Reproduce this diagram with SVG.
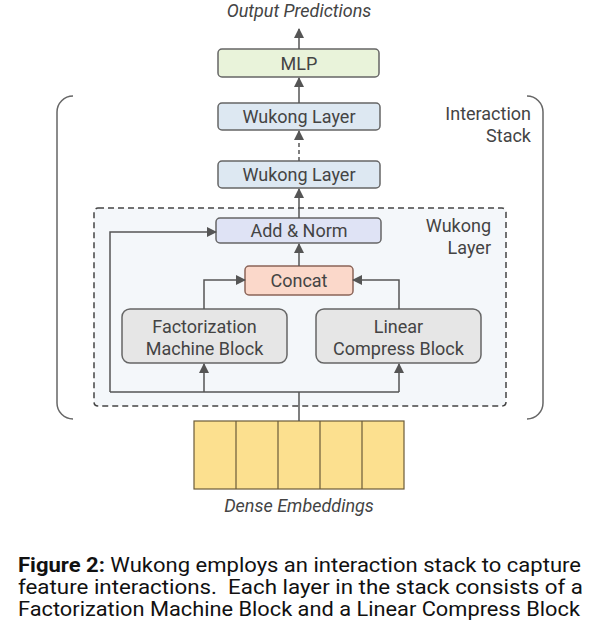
<svg xmlns="http://www.w3.org/2000/svg" width="600" height="637" viewBox="0 0 600 637">
<defs>
<marker id="ah" viewBox="0 0 10 10" refX="9" refY="5" markerWidth="10" markerHeight="10" markerUnits="userSpaceOnUse" orient="auto">
<path d="M0,0 L10,5 L0,10 Z" fill="#555"/>
</marker>
<style>
.t{font-family:Roboto,"Liberation Sans",sans-serif;font-size:18px;fill:#444;text-anchor:middle}
.ti{font-family:Roboto,"Liberation Sans",sans-serif;font-size:18px;fill:#444;font-style:italic;text-anchor:middle}
.tr{font-family:Roboto,"Liberation Sans",sans-serif;font-size:18px;fill:#444;text-anchor:end}
.box{stroke:#666;stroke-width:1.5}
.c{fill:none;stroke:#555;stroke-width:1.5}
.cap{font-family:Roboto,"Liberation Sans",sans-serif;font-size:21px;fill:#111}
</style>
</defs>
<rect width="600" height="637" fill="#fff"/>

<g id="interaction-stack">
<path d="M73,96 A16,16 0 0 0 57,112 V403 A16,16 0 0 0 73,419" fill="none" stroke="#666" stroke-width="1.5"/>
<path d="M527,96 A16,16 0 0 1 543,112 V403 A16,16 0 0 1 527,419" fill="none" stroke="#666" stroke-width="1.5"/>
<text class="tr" x="531" y="120">Interaction</text>
<text class="tr" x="531" y="142">Stack</text>
</g>

<g id="wukong-layer-detail">
<rect x="94" y="208" width="412" height="198" rx="4" fill="#f4f7fa" stroke="#444" stroke-width="1.5" stroke-dasharray="6,4"/>
<text class="tr" x="491" y="232">Wukong</text>
<text class="tr" x="491" y="254">Layer</text>
</g>

<g id="output-label"><text class="ti" x="299" y="17">Output Predictions</text></g>

<g id="mlp">
<rect class="box" x="218" y="49" width="161" height="28" rx="4" fill="#e9f3da"/>
<text class="t" x="299" y="69.5">MLP</text>
</g>

<g id="wukong-layer-top">
<rect class="box" x="218" y="103" width="162" height="27" rx="4" fill="#dde8f2"/>
<text class="t" x="299" y="123">Wukong Layer</text>
</g>

<g id="wukong-layer-bottom">
<rect class="box" x="218" y="161" width="162" height="27" rx="4" fill="#dde8f2"/>
<text class="t" x="299" y="181">Wukong Layer</text>
</g>

<g id="add-norm">
<rect class="box" x="216" y="218" width="165" height="25" rx="4" fill="#dfe3f5"/>
<text class="t" x="299" y="237">Add &amp; Norm</text>
</g>

<g id="concat">
<rect x="245" y="266" width="108" height="29" rx="4" fill="#fbd8ca" stroke="#8a6458" stroke-width="1.5"/>
<text class="t" x="299" y="287">Concat</text>
</g>

<g id="fm-block">
<rect class="box" x="122" y="309" width="165" height="54" rx="8" fill="#e6e6e6"/>
<text class="t" x="204.5" y="333">Factorization</text>
<text class="t" x="204.5" y="355">Machine Block</text>
</g>

<g id="lc-block">
<rect class="box" x="316" y="309" width="165" height="54" rx="8" fill="#e6e6e6"/>
<text class="t" x="398.5" y="333">Linear</text>
<text class="t" x="398.5" y="355">Compress Block</text>
</g>

<g id="dense-embeddings">
<rect x="194" y="421" width="210" height="68" fill="#fce08f" stroke="#6b5b3a" stroke-width="1.2"/>
<path d="M236,421 V489 M278,421 V489 M320,421 V489 M362,421 V489" stroke="#6b5b3a" stroke-width="1.2"/>
<text class="ti" x="299" y="512">Dense Embeddings</text>
</g>

<g id="connectors">
<path class="c" d="M299,49 V29" marker-end="url(#ah)"/>
<path class="c" d="M299,103 V78" marker-end="url(#ah)"/>
<path class="c" d="M299,161 V131" stroke-dasharray="4,3" marker-end="url(#ah)"/>
<path class="c" d="M299,218 V189" marker-end="url(#ah)"/>
<path class="c" d="M299,266 V244" marker-end="url(#ah)"/>
<path class="c" d="M204,309 V280 H245" marker-end="url(#ah)"/>
<path class="c" d="M399,309 V280 H353" marker-end="url(#ah)"/>
<path class="c" d="M299,421 V392"/>
<path class="c" d="M110,392 H399"/>
<path class="c" d="M110,392 V232 H216" marker-end="url(#ah)"/>
<path class="c" d="M204,392 V364" marker-end="url(#ah)"/>
<path class="c" d="M399,392 V364" marker-end="url(#ah)"/>
</g>

<g id="caption">
<text class="cap" x="18" y="572" textLength="563" lengthAdjust="spacingAndGlyphs"><tspan font-weight="bold">Figure 2:</tspan> Wukong employs an interaction stack to capture</text>
<text class="cap" x="18" y="594" textLength="565" lengthAdjust="spacingAndGlyphs">feature interactions.&#160; Each layer in the stack consists of a</text>
<text class="cap" x="18" y="616" textLength="562" lengthAdjust="spacingAndGlyphs">Factorization Machine Block and a Linear Compress Block</text>
</g>
</svg>
